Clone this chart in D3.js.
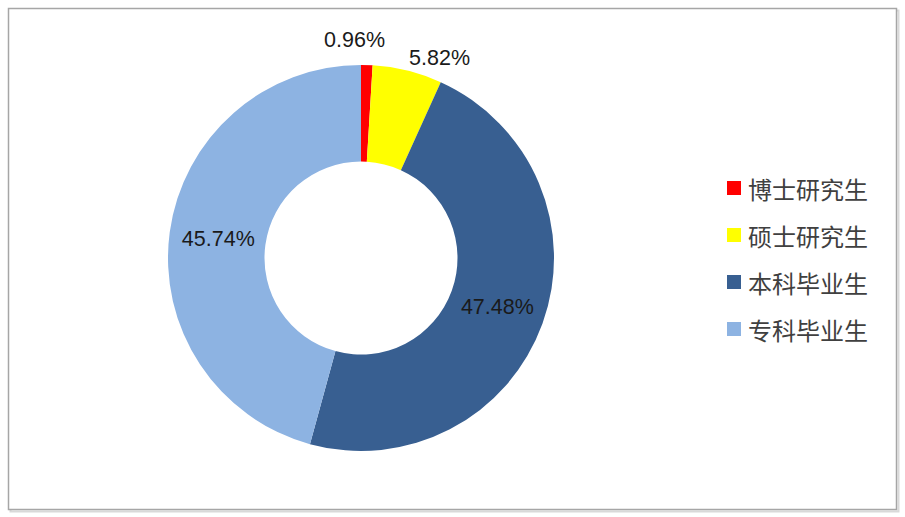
<!DOCTYPE html>
<html>
<head>
<meta charset="utf-8">
<script src="https://cdn.jsdelivr.net/npm/d3@7"></script>
<style>
html,body{margin:0;padding:0;background:#fff;}
svg{display:block;}
</style>
</head>
<body>
<svg id="chart" width="905" height="517"></svg>
<script>
const categories = ["博士研究生", "硕士研究生", "本科毕业生", "专科毕业生"];
const values = [0.96, 5.82, 47.48, 45.74];
const labels = ["0.96%", "5.82%", "47.48%", "45.74%"];
const colors = ["#FF0000", "#FFFF00", "#385F91", "#8DB3E2"];
// label layout: radius from centre and extra horizontal shift
const labelRadius = [218, 206, 145, 144];
const labelShiftX = [-13, 29, 0, 0];

const svg = d3.select("#chart");

// frame
svg.append("rect").attr("x", 9.5).attr("y", 9.5).attr("width", 888).attr("height", 501)
  .attr("fill", "none").attr("stroke", "#d9d9d9").attr("stroke-width", 2).attr("transform", "translate(1,1)");
svg.append("rect").attr("x", 8.5).attr("y", 8.5).attr("width", 888).attr("height", 501)
  .attr("fill", "#fff").attr("stroke", "#a6a6a6").attr("stroke-width", 1.5);

const cx = 361, cy = 258, outerR = 193, innerR = 96.5;
const g = svg.append("g").attr("transform", `translate(${cx},${cy})`);

const pie = d3.pie().sort(null).value(d => d);
const arcs = pie(values);
const arc = d3.arc().innerRadius(innerR).outerRadius(outerR);

g.selectAll("path.slice").data(arcs).enter().append("path")
  .attr("class", "slice")
  .attr("d", arc)
  .attr("fill", (d, i) => colors[i]);

g.selectAll("text.lbl").data(arcs).enter().append("text")
  .attr("class", "lbl")
  .attr("x", (d, i) => {
    const a = (d.startAngle + d.endAngle) / 2;
    return Math.sin(a) * labelRadius[i] + labelShiftX[i];
  })
  .attr("y", (d, i) => {
    const a = (d.startAngle + d.endAngle) / 2;
    return -Math.cos(a) * labelRadius[i];
  })
  .attr("text-anchor", "middle")
  .attr("dominant-baseline", "central")
  .attr("font-family", "Liberation Sans, Arial, sans-serif")
  .attr("font-size", 21.5)
  .attr("fill", "#1a1a1a")
  .text((d, i) => labels[i]);

// legend
const legY = d3.scalePoint().domain(categories).range([188, 329]);
const leg = svg.append("g");
const items = leg.selectAll("g").data(categories).enter().append("g")
  .attr("transform", d => `translate(727,${legY(d)})`);
items.append("rect").attr("x", 0).attr("y", -7).attr("width", 14).attr("height", 14)
  .attr("fill", (d, i) => colors[i]);
items.append("text").attr("x", 21).attr("y", 0)
  .attr("dominant-baseline", "central")
  .attr("font-family", "Noto Sans CJK SC, sans-serif")
  .attr("font-size", 24)
  .attr("fill", "#404040")
  .text(d => d);
</script>
</body>
</html>
